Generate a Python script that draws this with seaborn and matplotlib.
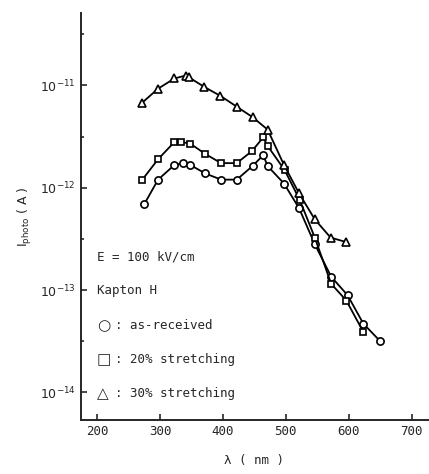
import numpy as np
import pandas as pd
import matplotlib
matplotlib.use("Agg")
import matplotlib.pyplot as plt
import matplotlib.ticker as mticker
import seaborn as sns

# Data
wl_asrec = [275, 297, 323, 337, 348, 372, 397, 422, 447, 464, 471, 497, 521, 546, 572, 598, 623, 649]
i_asrec = [6.9e-13, 1.2e-12, 1.67e-12, 1.74e-12, 1.67e-12, 1.38e-12, 1.2e-12, 1.2e-12, 1.63e-12,
           2.08e-12, 1.63e-12, 1.1e-12, 6.3e-13, 2.8e-13, 1.35e-13, 8.9e-14, 4.7e-14, 3.2e-14]

wl_20 = [272, 297, 323, 334, 348, 372, 397, 422, 446, 464, 471, 498, 522, 546, 572, 596, 623]
i_20 = [1.2e-12, 1.9e-12, 2.8e-12, 2.8e-12, 2.7e-12, 2.14e-12, 1.74e-12, 1.74e-12, 2.28e-12,
        3.1e-12, 2.56e-12, 1.49e-12, 7.6e-13, 3.25e-13, 1.15e-13, 7.9e-14, 3.9e-14]

wl_30 = [272, 297, 323, 341, 346, 370, 396, 422, 447, 471, 497, 521, 546, 571, 596]
i_30 = [6.8e-12, 9.3e-12, 1.17e-11, 1.25e-11, 1.2e-11, 9.7e-12, 7.9e-12, 6.2e-12, 4.9e-12,
        3.7e-12, 1.67e-12, 8.8e-13, 4.9e-13, 3.26e-13, 2.94e-13]

series_names = ["as-received", "20% stretching", "30% stretching"]
legend_symbols = ["○", "□", "△"]
x_ticks = [200, 300, 400, 500, 600, 700]
y_ticks = [1e-14, 1e-13, 1e-12, 1e-11]
y_ticklabels = ["10$^{-14}$", "10$^{-13}$", "10$^{-12}$", "10$^{-11}$"]

sns.set_style("ticks")
plt.rcParams['font.family'] = ['DejaVu Sans']

fig = plt.figure(figsize=(4.29, 4.74), dpi=100)
ax = fig.add_axes([0.188, 0.114, 0.81, 0.859])

markers = ["o", "s", "^"]
sizes = [5.2, 5.0, 5.6]
for name, wl, vals, m, ms in zip(series_names, [wl_asrec, wl_20, wl_30], [i_asrec, i_20, i_30], markers, sizes):
    df = pd.DataFrame({"wl": wl, "I": vals})
    sns.lineplot(data=df, x="wl", y="I", ax=ax, color="black", marker=m,
                 markersize=ms, markerfacecolor="white",
                 markeredgecolor="black", markeredgewidth=1.2, linewidth=1.3,
                 estimator=None, sort=False)

ax.set_yscale("log")
ax.set_xlim(174, 726)
ax.set_ylim(10**-14.27, 10**-10.29)
ax.set_xticks(x_ticks)
ax.set_xticklabels([str(v) for v in x_ticks], fontsize=9, family="DejaVu Sans Mono")
ax.set_yticks(y_ticks)
ax.set_yticklabels(y_ticklabels, fontsize=9)
ax.yaxis.set_minor_locator(mticker.FixedLocator([3.16e-14, 3.16e-13, 3.16e-12, 3.16e-11]))
ax.yaxis.set_minor_formatter(mticker.NullFormatter())
ax.tick_params(axis="both", which="both", direction="in", length=4, width=1.2)
ax.tick_params(axis="both", which="minor", length=2)
for s in ["top", "right"]:
    ax.spines[s].set_visible(False)
for s in ["left", "bottom"]:
    ax.spines[s].set_linewidth(1.4)

ax.set_xlabel("λ ( nm )", fontsize=9, family="DejaVu Sans Mono", labelpad=12)
ax.set_ylabel("I$_{\\mathregular{photo}}$ ( A )", fontsize=9, labelpad=4)

tx = 0.047
def yf(yp):
    return (420 - yp) / (420 - 13)

ax.text(tx, yf(257), "E = 100 kV/cm", transform=ax.transAxes, fontsize=9, va="center",
        ha="left", family="DejaVu Sans Mono")
ax.text(tx, yf(291), "Kapton H", transform=ax.transAxes, fontsize=9, va="center",
        ha="left", family="DejaVu Sans Mono")
for sym, name, yp in zip(legend_symbols, series_names, [326, 360, 394]):
    ax.text(tx, yf(yp), sym, transform=ax.transAxes, fontsize=11, va="center",
            ha="left", family="DejaVu Sans")
    ax.text(tx + 0.052, yf(yp), ": " + name, transform=ax.transAxes, fontsize=9,
            va="center", ha="left", family="DejaVu Sans Mono")

fig.savefig("out.png", dpi=100)
